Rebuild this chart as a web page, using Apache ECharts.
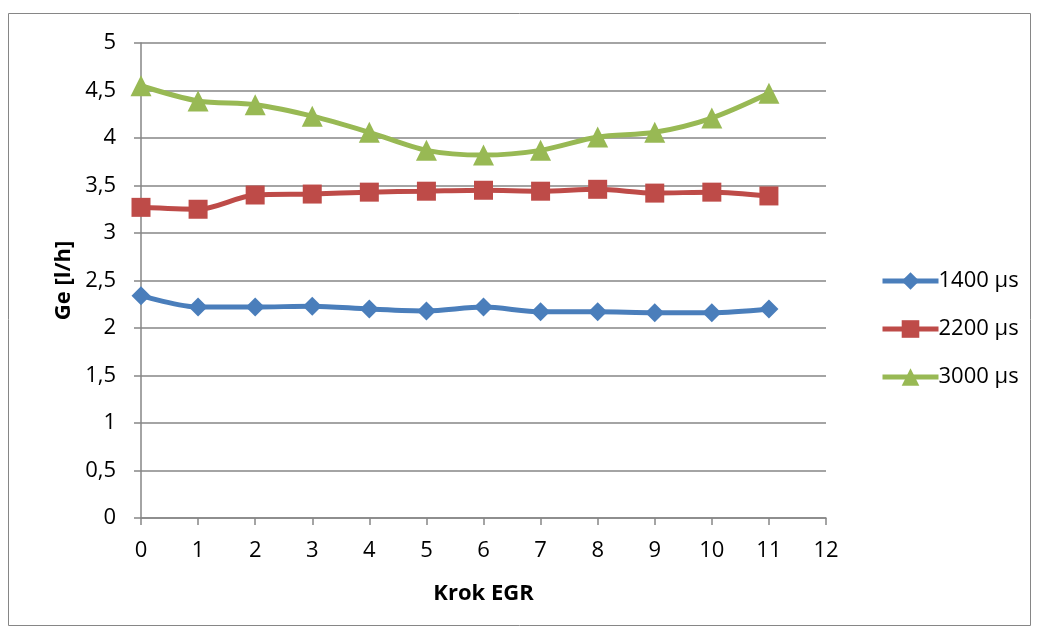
<!DOCTYPE html>
<html>
<head>
<meta charset="utf-8">
<script src="https://cdn.jsdelivr.net/npm/echarts@6/dist/echarts.min.js"></script>
<style>
  html, body { margin: 0; padding: 0; background: #fff; }
  #chart { width: 1040px; height: 635px; }
</style>
</head>
<body>
<div id="chart"></div>
<script>
// EGR step on the x axis
const steps = [0, 1, 2, 3, 4, 5, 6, 7, 8, 9, 10, 11];
// Fuel consumption Ge [l/h] for each injection time
const ge1400 = [2.34, 2.22, 2.22, 2.23, 2.20, 2.18, 2.22, 2.17, 2.17, 2.16, 2.16, 2.20];
const ge2200 = [3.27, 3.25, 3.40, 3.41, 3.43, 3.44, 3.45, 3.44, 3.46, 3.42, 3.43, 3.39];
const ge3000 = [4.55, 4.39, 4.35, 4.23, 4.06, 3.87, 3.82, 3.87, 4.01, 4.06, 4.21, 4.47];
const seriesNames = ['1400 µs', '2200 µs', '3000 µs'];
const seriesColors = ['#4a7ebb', '#be4b48', '#98b954'];
const seriesSymbols = ['diamond', 'rect', 'triangle'];
const seriesSizes = [19, 19, 21];

const font = 'Open Sans, Lato, sans-serif';
const pairs = arr => steps.map((s, i) => [s, arr[i]]);
const data = [ge1400, ge2200, ge3000];

const chart = echarts.init(document.getElementById('chart'));
chart.setOption({
  animation: false,
  backgroundColor: '#fff',
  graphic: [{
    type: 'rect',
    shape: { x: 8.5, y: 13.5, width: 1022, height: 612 },
    style: { fill: 'none', stroke: '#868686', lineWidth: 1 },
    silent: true
  }],
  grid: { left: 141, right: 214, top: 43, bottom: 117 },
  legend: {
    orient: 'vertical',
    left: 875,
    top: 265,
    itemGap: 26,
    itemWidth: 56,
    itemHeight: 22,
    lineStyle: { width: 5 },
    textStyle: { fontFamily: font, fontSize: 22, color: '#000', padding: [0, 0, 0, -5] },
    data: seriesNames
  },
  xAxis: {
    type: 'value',
    min: 0, max: 12, interval: 1,
    name: 'Krok EGR',
    nameLocation: 'middle',
    nameGap: 65,
    nameTextStyle: { fontFamily: font, fontSize: 22, fontWeight: 'bold', color: '#000' },
    axisLine: { lineStyle: { color: '#868686', width: 1.5 } },
    axisTick: { show: true, length: 7, lineStyle: { color: '#868686', width: 1.5 } },
    axisLabel: { fontFamily: font, fontSize: 22, color: '#000', margin: 22 },
    splitLine: { show: false }
  },
  yAxis: {
    type: 'value',
    min: 0, max: 5, interval: 0.5,
    name: 'Ge [l/h]',
    nameLocation: 'middle',
    nameGap: 31,
    nameRotate: 90,
    nameTextStyle: { fontFamily: font, fontSize: 22, fontWeight: 'bold', color: '#000' },
    axisLine: { show: true, lineStyle: { color: '#868686', width: 1.5 } },
    axisTick: { show: true, length: 7, lineStyle: { color: '#868686', width: 1.5 } },
    axisLabel: {
      fontFamily: font, fontSize: 22, color: '#000', margin: 25,
      formatter: v => String(v).replace('.', ',')
    },
    splitLine: { show: true, lineStyle: { color: '#868686', width: 1.5 } }
  },
  series: data.map((arr, i) => ({
    name: seriesNames[i],
    type: 'line',
    data: pairs(arr),
    smooth: 0.3,
    symbol: seriesSymbols[i],
    symbolSize: seriesSizes[i],
    itemStyle: { color: seriesColors[i] },
    lineStyle: { color: seriesColors[i], width: 5 }
  }))
});
</script>
</body>
</html>
